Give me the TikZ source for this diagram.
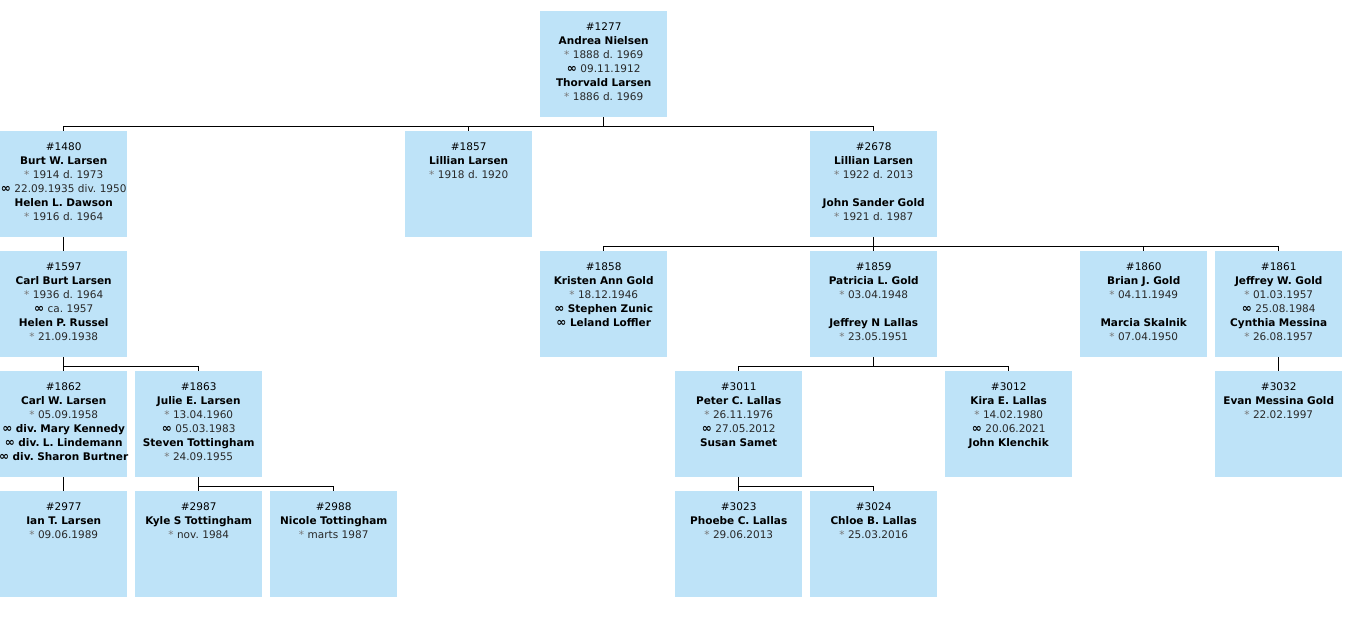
\documentclass[tikz,border=0pt]{standalone}
\usepackage{fontspec}
\setmainfont{DejaVu Sans}
\frenchspacing
\definecolor{boxblue}{RGB}{190,227,248}
\definecolor{stargray}{RGB}{120,120,120}
\definecolor{datedark}{RGB}{40,40,40}
\newcommand{\born}[1]{{\color{stargray}*} {\color{datedark}#1}}
\newcommand{\ring}{\textbf{\scalebox{1.15}{∞}}}
\newcommand{\nm}[1]{\makebox[\linewidth]{\bfseries #1}}
\newcommand{\wed}[1]{\makebox[\linewidth]{\ring\ {\color{datedark}#1}}}
\tikzset{
  person/.style={fill=boxblue, anchor=north west, text width=127pt,
    inner xsep=0pt, inner ysep=0pt, text height=19pt, text depth=87pt,
    align=center, font=\fontsize{10.5}{14}\selectfont},
  link/.style={line width=1pt}
}
\begin{document}
\begin{tikzpicture}[x=1pt, y=-1pt]
    \useasboundingbox (0,0) rectangle (1349,639);
    % generation 0
    \node[person] (p1277) at (540,11) {\#1277\\ \nm{Andrea Nielsen}\\ \born{1888 d. 1969}\\ \wed{09.11.1912}\\ \nm{Thorvald Larsen}\\ \born{1886 d. 1969}};
    % generation 1
    \node[person] (p1480) at (0,131) {\#1480\\ \nm{Burt W. Larsen}\\ \born{1914 d. 1973}\\ \wed{22.09.1935 div. 1950}\\ \nm{Helen L. Dawson}\\ \born{1916 d. 1964}};
    \node[person] (p1857) at (405,131) {\#1857\\ \nm{Lillian Larsen}\\ \born{1918 d. 1920}};
    \node[person] (p2678) at (810,131) {\#2678\\ \nm{Lillian Larsen}\\ \born{1922 d. 2013}\\[14pt] \nm{John Sander Gold}\\ \born{1921 d. 1987}};
    % generation 2
    \node[person] (p1597) at (0,251) {\#1597\\ \nm{Carl Burt Larsen}\\ \born{1936 d. 1964}\\ \wed{ca. 1957}\\ \nm{Helen P. Russel}\\ \born{21.09.1938}};
    \node[person] (p1858) at (540,251) {\#1858\\ \nm{Kristen Ann Gold}\\ \born{18.12.1946}\\ \nm{\ring\ Stephen Zunic}\\ \nm{\ring\ Leland Loffler}};
    \node[person] (p1859) at (810,251) {\#1859\\ \nm{Patricia L. Gold}\\ \born{03.04.1948}\\[14pt] \nm{Jeffrey N Lallas}\\ \born{23.05.1951}};
    \node[person] (p1860) at (1080,251) {\#1860\\ \nm{Brian J. Gold}\\ \born{04.11.1949}\\[14pt] \nm{Marcia Skalnik}\\ \born{07.04.1950}};
    \node[person] (p1861) at (1215,251) {\#1861\\ \nm{Jeffrey W. Gold}\\ \born{01.03.1957}\\ \wed{25.08.1984}\\ \nm{Cynthia Messina}\\ \born{26.08.1957}};
    % generation 3
    \node[person] (p1862) at (0,371) {\#1862\\ \nm{Carl W. Larsen}\\ \born{05.09.1958}\\ \nm{\ring\ div. Mary Kennedy}\\ \nm{\ring\ div. L. Lindemann}\\ \nm{\ring\ div. Sharon Burtner}};
    \node[person] (p1863) at (135,371) {\#1863\\ \nm{Julie E. Larsen}\\ \born{13.04.1960}\\ \wed{05.03.1983}\\ \nm{Steven Tottingham}\\ \born{24.09.1955}};
    \node[person] (p3011) at (675,371) {\#3011\\ \nm{Peter C. Lallas}\\ \born{26.11.1976}\\ \wed{27.05.2012}\\ \nm{Susan Samet}};
    \node[person] (p3012) at (945,371) {\#3012\\ \nm{Kira E. Lallas}\\ \born{14.02.1980}\\ \wed{20.06.2021}\\ \nm{John Klenchik}};
    \node[person] (p3032) at (1215,371) {\#3032\\ \nm{Evan Messina Gold}\\ \born{22.02.1997}};
    % generation 4
    \node[person] (p2977) at (0,491) {\#2977\\ \nm{Ian T. Larsen}\\ \born{09.06.1989}};
    \node[person] (p2987) at (135,491) {\#2987\\ \nm{Kyle S Tottingham}\\ \born{nov. 1984}};
    \node[person] (p2988) at (270,491) {\#2988\\ \nm{Nicole Tottingham}\\ \born{marts 1987}};
    \node[person] (p3023) at (675,491) {\#3023\\ \nm{Phoebe C. Lallas}\\ \born{29.06.2013}};
    \node[person] (p3024) at (810,491) {\#3024\\ \nm{Chloe B. Lallas}\\ \born{25.03.2016}};
    % parent to child links
    \foreach \p/\c in {p1277/p1480, p1277/p1857, p1277/p2678,
                       p1480/p1597, p2678/p1858, p2678/p1859, p2678/p1860, p2678/p1861,
                       p1597/p1862, p1597/p1863, p1859/p3011, p1859/p3012, p1861/p3032,
                       p1862/p2977, p1863/p2987, p1863/p2988, p3011/p3023, p3011/p3024}
        \draw[link] (\p.south) -- ++(0,9) -| (\c.north);
\end{tikzpicture}
\end{document}
